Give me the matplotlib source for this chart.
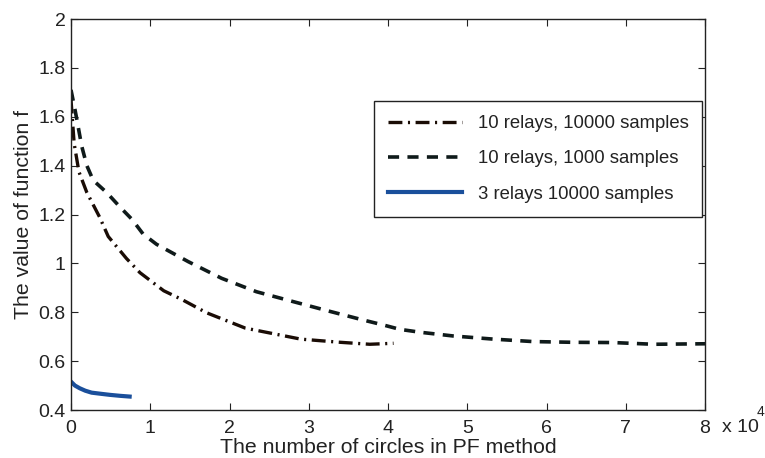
import matplotlib
matplotlib.use("Agg")
import matplotlib.pyplot as plt
from matplotlib.ticker import FuncFormatter, MultipleLocator

plt.rcParams['font.family'] = ['Liberation Sans', 'DejaVu Sans']
plt.rcParams['lines.scale_dashes'] = False

# circles (x 10^4) and value of f
x_r10_s10000 = [0.0, 0.04, 0.10, 0.20, 0.36, 0.47, 0.70, 0.87, 1.17, 1.40, 1.71,
                2.20, 2.90, 3.40, 3.77, 4.07]
y_r10_s10000 = [1.67, 1.49, 1.375, 1.29, 1.19, 1.11, 1.02, 0.962, 0.888, 0.852, 0.798,
                0.735, 0.69, 0.677, 0.669, 0.673]

x_r10_s1000 = [0.0, 0.05, 0.09, 0.135, 0.20, 0.28, 0.45, 0.62, 0.77, 0.91, 1.08,
               1.48, 1.90, 2.34, 2.81, 3.25, 3.69, 3.94, 4.15, 4.41, 4.82, 5.33,
               5.83, 6.34, 6.84, 7.35, 8.0]
y_r10_s1000 = [1.71, 1.63, 1.56, 1.48, 1.40, 1.34, 1.29, 1.23, 1.18, 1.12, 1.078,
               1.007, 0.939, 0.884, 0.843, 0.805, 0.768, 0.748, 0.73, 0.718, 0.703, 0.69,
               0.68, 0.677, 0.676, 0.669, 0.671]

x_r3_s10000 = [0.0, 0.05, 0.11, 0.18, 0.26, 0.36, 0.49, 0.62, 0.74]
y_r3_s10000 = [0.516, 0.500, 0.489, 0.479, 0.471, 0.467, 0.462, 0.458, 0.455]

labels = ["10 relays, 10000 samples", "10 relays, 1000 samples", "3 relays 10000 samples"]

fig = plt.figure(figsize=(7.65, 4.58), dpi=100)
ax = fig.add_axes([0.0928, 0.1048, 0.8288, 0.8537])

scale = 1e4
ax.plot([v * scale for v in x_r10_s10000], y_r10_s10000, color="#1a0c05", lw=2.4,
        dashes=(10, 4, 1.5, 4), label=labels[0])
ax.plot([v * scale for v in x_r10_s1000], y_r10_s1000, color="#0f1a1a", lw=2.6,
        dashes=(8, 6), label=labels[1])
ax.plot([v * scale for v in x_r3_s10000], y_r3_s10000, color="#1a4f9b", lw=3.0,
        label=labels[2])

ax.set_xlim(0, 8e4)
ax.set_ylim(0.4, 2.0)
ax.xaxis.set_major_locator(MultipleLocator(1e4))
ax.yaxis.set_major_locator(MultipleLocator(0.2))
ax.xaxis.set_major_formatter(FuncFormatter(lambda v, p: "%g" % (v / scale)))
ax.yaxis.set_major_formatter(FuncFormatter(lambda v, p: "%g" % round(v, 1)))
ax.tick_params(direction="in", top=True, right=True, length=5, width=0.8,
               labelsize=14, colors="#222222", pad=4)
ax.tick_params(axis="x", pad=7)
for s in ax.spines.values():
    s.set_linewidth(1.0)
    s.set_color("#222222")

ax.text(1.027, -0.045, "x 10", transform=ax.transAxes, fontsize=14,
        color="#222222", va="center", ha="left")
ax.text(1.081, -0.006, "4", transform=ax.transAxes, fontsize=10,
        color="#222222", va="center", ha="left")

ax.set_xlabel("The number of circles in PF method", fontsize=15.3, color="#222222", labelpad=1)
ax.set_ylabel("The value of function f", fontsize=15.3, color="#222222", labelpad=4)

leg = ax.legend(loc="upper left", bbox_to_anchor=(0.4776, 0.79), fontsize=13.3,
                handlelength=4.0, handletextpad=0.87, labelspacing=1.0,
                borderpad=0.75, fancybox=False, framealpha=1, borderaxespad=0)
leg.get_frame().set_edgecolor("#222222")
leg.get_frame().set_linewidth(1.0)
for t in leg.get_texts():
    t.set_color("#222222")

fig.savefig("out.png", dpi=100)
